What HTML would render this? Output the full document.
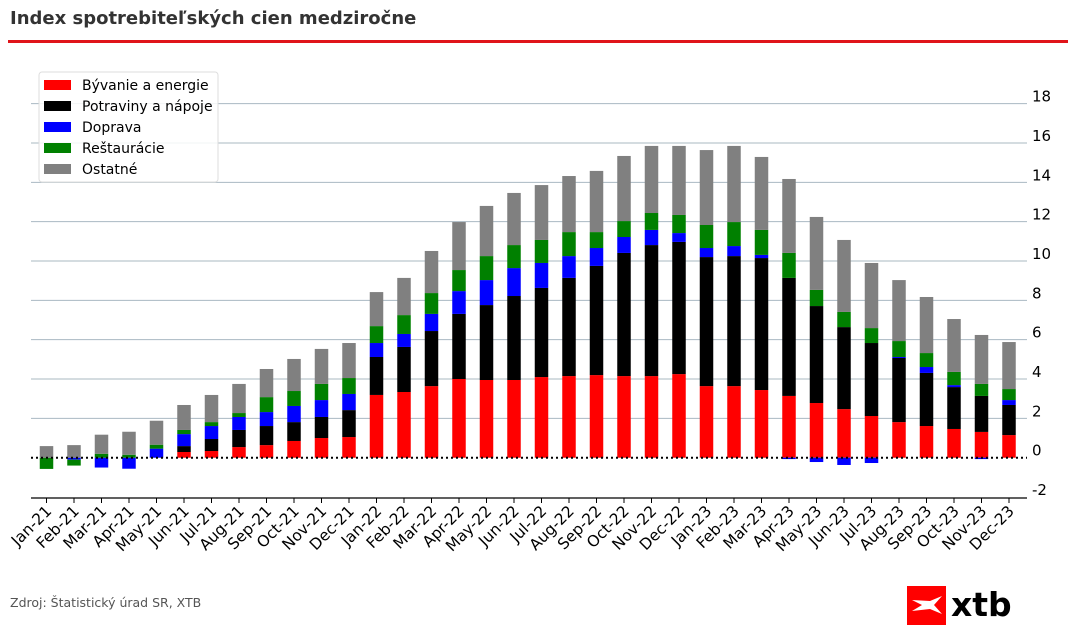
<!DOCTYPE html>
<html><head><meta charset="utf-8">
<style>
body{margin:0;background:#fff;width:1076px;height:635px;overflow:hidden;font-family:"Liberation Sans","DejaVu Sans",sans-serif;}
svg text{font-family:"DejaVu Sans","Liberation Sans",sans-serif;}
</style></head>
<body>
<svg id="chart" width="1076" height="635" viewBox="0 0 1076 635">
<text x="10" y="24" font-size="18" font-weight="bold" fill="#333">Index spotrebiteľských cien medziročne</text>
<rect x="8" y="40" width="1060" height="3" fill="#e0141a"/>
<g id="grid"></g>
<g id="bars"></g>
<g id="axes"></g>
<g>
<rect x="39" y="72" width="179" height="110" rx="3" fill="#fff" fill-opacity="0.85" stroke="#ddd"/>
<g id="legend-items"></g>
</g>
<text x="10" y="607" font-size="12.5" fill="#555">Zdroj: Štatistický úrad SR, XTB</text>
<g>
<rect x="907" y="586" width="39" height="39" fill="#f00"/>
<path d="M912 600 L930 601 L942 596 L934 605 L942 614 L930 609 L912 611 L922 605 Z" fill="#fff"/>
<text x="951" y="616" font-size="33" font-weight="bold" fill="#000" font-family="Liberation Sans, sans-serif">xtb</text>
</g>
</svg>
<script>
const months=["Jan-21","Feb-21","Mar-21","Apr-21","May-21","Jun-21","Jul-21","Aug-21","Sep-21","Oct-21","Nov-21","Dec-21","Jan-22","Feb-22","Mar-22","Apr-22","May-22","Jun-22","Jul-22","Aug-22","Sep-22","Oct-22","Nov-22","Dec-22","Jan-23","Feb-23","Mar-23","Apr-23","May-23","Jun-23","Jul-23","Aug-23","Sep-23","Oct-23","Nov-23","Dec-23"];
const housing=[0,0,0,0,0,0.29,0.34,0.54,0.64,0.85,1.0,1.05,3.19,3.34,3.64,4.0,3.95,3.95,4.10,4.15,4.2,4.15,4.15,4.25,3.64,3.64,3.44,3.14,2.78,2.47,2.12,1.81,1.61,1.46,1.31,1.15];
const food=[0,0,0,0,0,0.30,0.61,0.87,0.97,0.96,1.07,1.37,1.93,2.29,2.8,3.31,3.81,4.27,4.53,4.99,5.55,6.26,6.66,6.72,6.56,6.61,6.71,6.0,4.93,4.17,3.71,3.26,2.7,2.13,1.83,1.53];
const transport=[0,-0.1,-0.5,-0.56,0.46,0.61,0.66,0.66,0.71,0.82,0.86,0.82,0.71,0.66,0.87,1.16,1.27,1.42,1.27,1.11,0.91,0.81,0.77,0.45,0.46,0.51,0.16,-0.07,-0.22,-0.37,-0.27,0.05,0.3,0.1,-0.07,0.25];
const restaurants=[-0.57,-0.3,0.2,0.15,0.2,0.21,0.2,0.2,0.76,0.76,0.82,0.81,0.86,0.96,1.06,1.07,1.22,1.17,1.17,1.22,0.81,0.81,0.86,0.92,1.17,1.22,1.27,1.27,0.82,0.77,0.76,0.81,0.71,0.67,0.61,0.56];
const other=[0.59,0.64,0.97,1.17,1.22,1.27,1.38,1.48,1.43,1.63,1.78,1.78,1.73,1.89,2.14,2.44,2.55,2.65,2.79,2.85,3.11,3.31,3.41,3.51,3.81,3.87,3.71,3.76,3.71,3.66,3.31,3.1,2.85,2.69,2.49,2.39];
const yTicks=[-2,0,2,4,6,8,10,12,14,16,18];
const seriesNames=["Bývanie a energie","Potraviny a nápoje","Doprava","Reštaurácie","Ostatné"];

const NS="http://www.w3.org/2000/svg";
const colors=["#ff0000","#000000","#0000ff","#008000","#808080"];
const slugs=["housing","food","transport","restaurants","other"];
const series=[housing,food,transport,restaurants,other];
const X0=46.5,DX=27.5,BW=13.5,LEFT=31,RIGHT=1027;
function x(i){return X0+i*DX;}
function y(v){return 457.7-v*19.67;}
function mk(tag,attrs,parent){const e=document.createElementNS(NS,tag);for(const k in attrs)e.setAttribute(k,attrs[k]);parent.appendChild(e);return e;}
const grid=document.getElementById('grid'),bars=document.getElementById('bars'),axes=document.getElementById('axes');
yTicks.forEach(t=>{
  if(t!==0&&t!==-2){const l=mk('line',{x1:LEFT,x2:RIGHT,y1:y(t),y2:y(t),stroke:'#aab8c2','stroke-width':1},grid);
  
  }
  const tx=mk('text',{x:1032,y:y(t)-2,'font-size':15,fill:'#000'},axes);
  tx.textContent=t;
  
  
});
months.forEach((m,i)=>{
  let pos=0,neg=0;
  series.forEach((s,k)=>{
    const v=s[i];if(!v)return;
    let b;if(v>=0){b=pos;pos+=v;}else{b=neg;neg+=v;}
    const y1=y(b),y2=y(b+v);
    const r=mk('rect',{x:x(i)-BW/2,y:Math.min(y1,y2),width:BW,height:Math.abs(y1-y2),fill:colors[k]},bars);
    
    
  });
  const tk=mk('line',{x1:x(i),x2:x(i),y1:498,y2:503,stroke:'#000','stroke-width':1},axes);
  
  
  const lb=mk('text',{x:0,y:0,'font-size':15.5,fill:'#000','text-anchor':'end',transform:`translate(${x(i)+6},${512}) rotate(-45)`},axes);
  lb.textContent=m;
  
  
});
const zl=mk('line',{x1:LEFT,x2:RIGHT,y1:y(0),y2:y(0),stroke:'#000','stroke-width':2,'stroke-dasharray':'2,3'},axes);


const sp=mk('line',{x1:LEFT,x2:RIGHT,y1:498,y2:498,stroke:'#000','stroke-width':1.2},axes);


const lg=document.getElementById('legend-items');
seriesNames.forEach((n,k)=>{
  const cy=85+k*21;
  const r=mk('rect',{x:44,y:cy-5,width:27,height:10,fill:colors[k]},lg);
  
  
  const t=mk('text',{x:82,y:cy+5,'font-size':14,fill:'#000'},lg);
  t.textContent=n;
  
  
});
</script>
</body></html>
